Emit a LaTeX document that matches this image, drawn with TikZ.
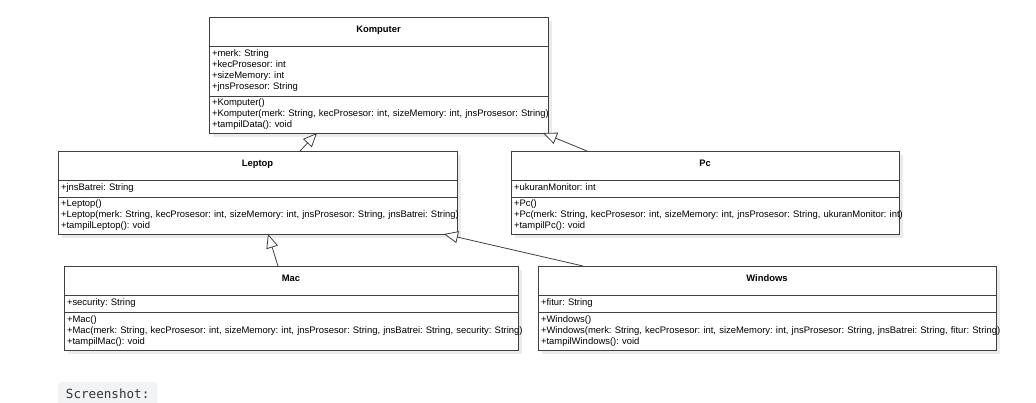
\documentclass[tikz,border=0pt]{standalone}
\usepackage{fontspec}
\setmainfont{Liberation Sans}
\newfontfamily\shotfont{DejaVu Sans Mono}
\usetikzlibrary{positioning,arrows.meta,backgrounds}
\frenchspacing
\definecolor{EdgeGray}{rgb}{0.25,0.25,0.25}
\definecolor{ShadowGray}{rgb}{0.92,0.92,0.92}
\definecolor{ShotGray}{rgb}{0.945,0.953,0.957}
\definecolor{ShotText}{rgb}{0.2,0.2,0.2}
\newcommand{\umlrows}[1]{\begin{tabular}{@{}l@{}}#1\end{tabular}}
\tikzset{
  classname/.style={draw=EdgeGray, fill=white, line width=0.8pt, outer sep=0pt, minimum width=#1, anchor=north west,
    font=\fontsize{9.4}{11.1}\selectfont\bfseries, text height=15.5pt, text depth=13.5pt, inner ysep=0pt},
  members/.style={draw=EdgeGray, fill=white, line width=0.8pt, outer sep=0pt, text width=#1, align=left,
    inner xsep=3pt, inner ysep=0pt, font=\fontsize{9.45}{11.1}\selectfont},
  inherit/.style={draw=EdgeGray, line width=0.8pt, -{Triangle[length=14pt, width=12pt, fill=white]}}
}
\begin{document}
\begin{tikzpicture}[x=1pt, y=-1pt]
  \useasboundingbox (0,0) rectangle (1036,402);
  \node[classname=339pt] (k0) at (209, 17) {Komputer};
  \node[members=333pt, minimum height=50pt, below=0pt of k0] (k1) {\umlrows{+merk: String\\+kecProsesor: int\\+sizeMemory: int\\+jnsProsesor: String}};
  \node[members=333pt, minimum height=37pt, below=0pt of k1] (k2) {\umlrows{+Komputer()\\+Komputer(merk: String, kecProsesor: int, sizeMemory: int, jnsProsesor: String)\\+tampilData(): void}};
  \node[classname=399pt] (l0) at (58, 151) {Leptop};
  \node[members=393pt, minimum height=17pt, below=0pt of l0] (l1) {\umlrows{+jnsBatrei: String}};
  \node[members=393pt, minimum height=37pt, below=0pt of l1] (l2) {\umlrows{+Leptop()\\+Leptop(merk: String, kecProsesor: int, sizeMemory: int, jnsProsesor: String, jnsBatrei: String)\\+tampilLeptop(): void}};
  \node[classname=388pt] (p0) at (511, 151) {Pc};
  \node[members=382pt, minimum height=17pt, below=0pt of p0] (p1) {\umlrows{+ukuranMonitor: int}};
  \node[members=382pt, minimum height=37pt, below=0pt of p1] (p2) {\umlrows{+Pc()\\+Pc(merk: String, kecProsesor: int, sizeMemory: int, jnsProsesor: String, ukuranMonitor: int)\\+tampilPc(): void}};
  \node[classname=454pt] (m0) at (64, 266) {Mac};
  \node[members=448pt, minimum height=17pt, below=0pt of m0] (m1) {\umlrows{+security: String}};
  \node[members=448pt, minimum height=38pt, below=0pt of m1] (m2) {\umlrows{+Mac()\\+Mac(merk: String, kecProsesor: int, sizeMemory: int, jnsProsesor: String, jnsBatrei: String, security: String)\\+tampilMac(): void}};
  \node[classname=458pt] (w0) at (538, 266) {Windows};
  \node[members=452pt, minimum height=17pt, below=0pt of w0] (w1) {\umlrows{+fitur: String}};
  \node[members=452pt, minimum height=38pt, below=0pt of w1] (w2) {\umlrows{+Windows()\\+Windows(merk: String, kecProsesor: int, sizeMemory: int, jnsProsesor: String, jnsBatrei: String, fitur: String)\\+tampilWindows(): void}};
  \draw[inherit] ([xshift=242pt]l0.north west) -- ([xshift=108pt]k2.south west);
  \draw[inherit] ([xshift=76pt]p0.north west) -- ([xshift=334pt]k2.south west);
  \draw[inherit] ([xshift=214pt]m0.north west) -- ([xshift=210pt]l2.south west);
  \draw[inherit] ([xshift=45pt]w0.north west) -- ([xshift=386pt]l2.south west);
  \node[fill=ShotGray, rounded corners=3pt, anchor=north west, minimum width=99pt, inner xsep=0pt, inner ysep=0pt,
    text height=16pt, text depth=8pt, text=ShotText, font=\shotfont\fontsize{12.6}{14}\selectfont] (shot) at (58, 382) {Screenshot:};
  \begin{scope}[on background layer]
    \fill[white] (0,0) rectangle (1036,402);
    \foreach \c in {k,l,p,m,w}
      \fill[ShadowGray] ([shift={(4pt,-4pt)}]\c0.north west) rectangle ([shift={(4pt,-4pt)}]\c2.south east);
  \end{scope}
\end{tikzpicture}
\end{document}
